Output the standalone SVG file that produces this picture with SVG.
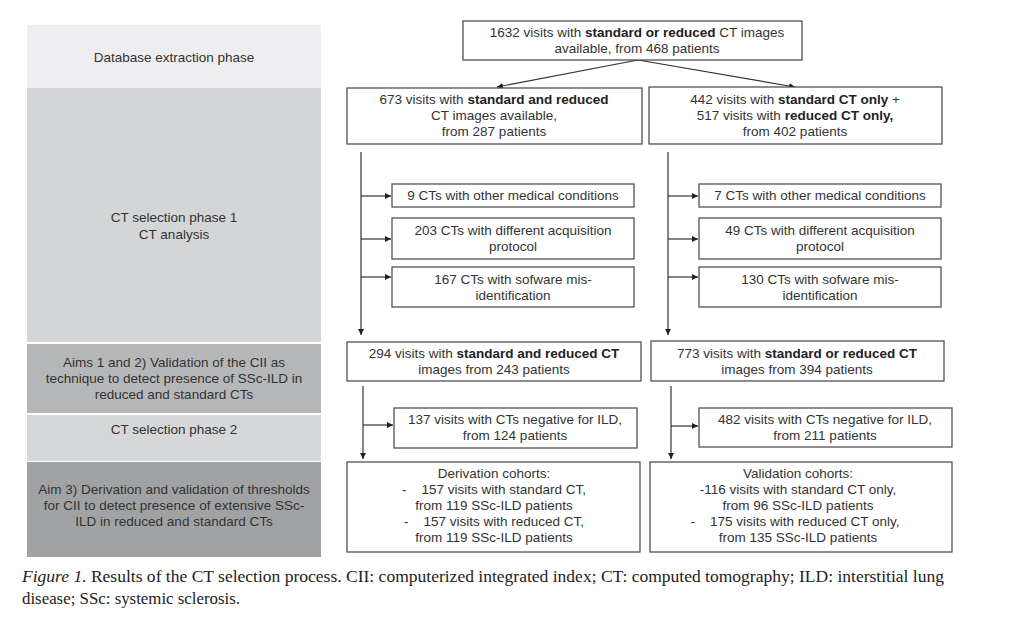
<svg xmlns="http://www.w3.org/2000/svg" width="1023" height="619" viewBox="0 0 1023 619">
<defs>
<marker id="ah" viewBox="0 0 8 8" refX="8" refY="4" markerWidth="6" markerHeight="6" orient="auto" markerUnits="userSpaceOnUse">
<path d="M0,0 L8,4 L0,8 z" fill="#222"/>
</marker>
<style>
.box{fill:#fff;stroke:#444;stroke-width:1.2}
.t{font-family:"Liberation Sans",Arial,sans-serif;font-size:13.5px;fill:#333;text-anchor:middle}
.b{font-weight:bold;fill:#222}
.band{stroke:none}
.c{stroke:#333;stroke-width:1.2;fill:none}
.cap{font-family:"Liberation Serif","Times New Roman",serif;font-size:16px;fill:#222}
</style>
</defs>
<rect width="1023" height="619" fill="#fff"/>

<g id="phases">
<rect class="band" x="27" y="25" width="294" height="63" fill="#eeeef0"/>
<text class="t" x="174" y="62">Database extraction phase</text>
<rect class="band" x="27" y="88" width="294" height="254" fill="#d4d5d7"/>
<text class="t" x="174" y="222">CT selection phase 1</text>
<text class="t" x="174" y="239">CT analysis</text>
<rect class="band" x="27" y="344" width="294" height="69" fill="#b6b7b9"/>
<text class="t" x="174" y="367">Aims 1 and 2) Validation of the CII as</text>
<text class="t" x="174" y="383">technique to detect presence of SSc-ILD in</text>
<text class="t" x="174" y="399">reduced and standard CTs</text>
<rect class="band" x="27" y="415" width="294" height="46" fill="#d6d7d9"/>
<text class="t" x="174" y="434">CT selection phase 2</text>
<rect class="band" x="27" y="462" width="294" height="95" fill="#a1a2a4"/>
<text class="t" x="174" y="494">Aim 3) Derivation and validation of thresholds</text>
<text class="t" x="174" y="510">for CII to detect presence of extensive SSc-</text>
<text class="t" x="174" y="526">ILD in reduced and standard CTs</text>
</g>

<g id="connectors">
<line class="c" x1="638" y1="60" x2="497" y2="87" marker-end="url(#ah)"/>
<line class="c" x1="638" y1="60" x2="795" y2="87" marker-end="url(#ah)"/>
<line class="c" x1="361" y1="152" x2="361" y2="335" marker-end="url(#ah)"/>
<line class="c" x1="361" y1="196" x2="391" y2="196" marker-end="url(#ah)"/>
<line class="c" x1="361" y1="239" x2="391" y2="239" marker-end="url(#ah)"/>
<line class="c" x1="361" y1="277" x2="391" y2="277" marker-end="url(#ah)"/>
<line class="c" x1="668" y1="152" x2="668" y2="335" marker-end="url(#ah)"/>
<line class="c" x1="668" y1="196" x2="698" y2="196" marker-end="url(#ah)"/>
<line class="c" x1="668" y1="239" x2="698" y2="239" marker-end="url(#ah)"/>
<line class="c" x1="668" y1="277" x2="698" y2="277" marker-end="url(#ah)"/>
<line class="c" x1="363" y1="386" x2="363" y2="459" marker-end="url(#ah)"/>
<line class="c" x1="363" y1="425" x2="393" y2="425" marker-end="url(#ah)"/>
<line class="c" x1="671" y1="386" x2="671" y2="459" marker-end="url(#ah)"/>
<line class="c" x1="671" y1="426" x2="698" y2="426" marker-end="url(#ah)"/>
</g>

<g id="n-top">
<rect class="box" x="463" y="21" width="339" height="39"/>
<text class="t" x="637" y="37">1632 visits with <tspan class="b">standard or reduced</tspan> CT images</text>
<text class="t" x="637" y="53">available, from 468 patients</text>
</g>

<g id="n-673">
<rect class="box" x="347" y="88" width="295" height="56"/>
<text class="t" x="494" y="104">673 visits with <tspan class="b">standard and reduced</tspan></text>
<text class="t" x="494" y="120">CT images available,</text>
<text class="t" x="494" y="136">from 287 patients</text>
</g>

<g id="n-442">
<rect class="box" x="649" y="87" width="293" height="57"/>
<text class="t" x="795" y="104">442 visits with <tspan class="b">standard CT only</tspan> +</text>
<text class="t" x="795" y="120">517 visits with <tspan class="b">reduced CT only,</tspan></text>
<text class="t" x="795" y="136">from 402 patients</text>
</g>

<g id="n-l1">
<rect class="box" x="392" y="184" width="242" height="23"/>
<text class="t" x="513" y="200">9 CTs with other medical conditions</text>
</g>
<g id="n-l2">
<rect class="box" x="392" y="218" width="242" height="41"/>
<text class="t" x="513" y="235">203 CTs with different acquisition</text>
<text class="t" x="513" y="251">protocol</text>
</g>
<g id="n-l3">
<rect class="box" x="392" y="267" width="242" height="40"/>
<text class="t" x="513" y="284">167 CTs with sofware mis-</text>
<text class="t" x="513" y="300">identification</text>
</g>

<g id="n-r1">
<rect class="box" x="699" y="184" width="242" height="23"/>
<text class="t" x="820" y="200">7 CTs with other medical conditions</text>
</g>
<g id="n-r2">
<rect class="box" x="699" y="218" width="242" height="41"/>
<text class="t" x="820" y="235">49 CTs with different acquisition</text>
<text class="t" x="820" y="251">protocol</text>
</g>
<g id="n-r3">
<rect class="box" x="699" y="267" width="242" height="40"/>
<text class="t" x="820" y="284">130 CTs with sofware mis-</text>
<text class="t" x="820" y="300">identification</text>
</g>

<g id="n-294">
<rect class="box" x="347" y="342" width="294" height="39"/>
<text class="t" x="494" y="358">294 visits with <tspan class="b">standard and reduced CT</tspan></text>
<text class="t" x="494" y="374">images from 243 patients</text>
</g>
<g id="n-773">
<rect class="box" x="651" y="341" width="293" height="40"/>
<text class="t" x="797" y="358">773 visits with <tspan class="b">standard or reduced CT</tspan></text>
<text class="t" x="797" y="374">images from 394 patients</text>
</g>

<g id="n-137">
<rect class="box" x="394" y="408" width="243" height="40"/>
<text class="t" x="515" y="424">137 visits with CTs negative for ILD,</text>
<text class="t" x="515" y="440">from 124 patients</text>
</g>
<g id="n-482">
<rect class="box" x="699" y="408" width="253" height="39"/>
<text class="t" x="825" y="424">482 visits with CTs negative for ILD,</text>
<text class="t" x="825" y="440">from 211 patients</text>
</g>

<g id="n-deriv">
<rect class="box" x="347" y="462" width="293" height="90"/>
<text class="t" x="494" y="478">Derivation cohorts:</text>
<text class="t" x="494" y="494" xml:space="preserve">-    157 visits with standard CT,</text>
<text class="t" x="494" y="510">from 119 SSc-ILD patients</text>
<text class="t" x="494" y="526" xml:space="preserve">-    157 visits with reduced CT,</text>
<text class="t" x="494" y="542">from 119 SSc-ILD patients</text>
</g>
<g id="n-valid">
<rect class="box" x="650" y="462" width="302" height="90"/>
<text class="t" x="798" y="478">Validation cohorts:</text>
<text class="t" x="798" y="494">-116 visits with standard CT only,</text>
<text class="t" x="798" y="510">from 96 SSc-ILD patients</text>
<text class="t" x="795" y="526" xml:space="preserve">-    175 visits with reduced CT only,</text>
<text class="t" x="798" y="542">from 135 SSc-ILD patients</text>
</g>

<g id="caption">
<text class="cap" x="22" y="582" textLength="922" lengthAdjust="spacingAndGlyphs"><tspan font-style="italic">Figure 1.</tspan> Results of the CT selection process. CII: computerized integrated index; CT: computed tomography; ILD: interstitial lung</text>
<text class="cap" x="22" y="604" textLength="218" lengthAdjust="spacingAndGlyphs">disease; SSc: systemic sclerosis.</text>
</g>
</svg>
